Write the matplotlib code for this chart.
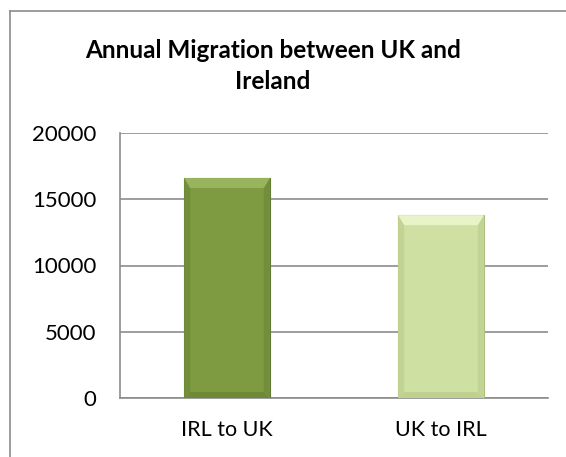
import matplotlib
matplotlib.use("Agg")
import matplotlib.pyplot as plt
from matplotlib.patches import Polygon
from matplotlib.lines import Line2D
import numpy as np

categories = ["IRL to UK", "UK to IRL"]
values = [16600, 13800]
yticks = [0, 5000, 10000, 15000, 20000]
title = "Annual Migration between UK and\nIreland"

W, H = 566, 457
plt.rcParams['font.family'] = ['Lato', 'DejaVu Sans']
fig = plt.figure(figsize=(W / 100, H / 100), dpi=100)

# outer chart frame (top and left visible)
fig.add_artist(Line2D([10 / W, 10 / W], [0, 1 - 11 / H], color="#8c8c8c", lw=1.2))
fig.add_artist(Line2D([10 / W, 1.0], [1 - 11 / H, 1 - 11 / H], color="#8c8c8c", lw=1.2))

ax = fig.add_axes([120 / W, 1 - 398 / H, (548 - 120) / W, (398 - 133) / H])
ax.set_xlim(-0.5, 1.5)
ax.set_ylim(0, 20000)
ax.set_yticks(yticks)
ax.set_yticklabels([str(t) for t in yticks], fontsize=16)
ax.set_xticks(range(len(categories)))
ax.set_xticklabels(categories, fontsize=15.5)
ax.tick_params(length=0)
ax.tick_params(axis="y", pad=17)
ax.tick_params(axis="x", pad=16)
for s in ["top", "right"]:
    ax.spines[s].set_visible(False)
for s in ["left", "bottom"]:
    ax.spines[s].set_color("#8c8c8c")
    ax.spines[s].set_linewidth(1.2)
ax.yaxis.grid(True, color="#8c8c8c", lw=1.2)
ax.set_axisbelow(True)

fig.text(273 / W, 1 - 66 / H, title, ha="center", va="center", multialignment="center",
         fontsize=17.5, fontweight="bold", linespacing=1.45)

main_colors = ["#7E9B41", "#CFE1A2"]
top_colors = ["#98B55E", "#E8F3C8"]
side_colors = ["#728E3A", "#C2D494"]
bot_colors = ["#6F8A37", "#BFD090"]
edge_colors = ["#627B32", "#AFBF82"]

bars = ax.bar(range(len(categories)), values, width=0.4, color=main_colors,
              edgecolor=edge_colors, linewidth=0.8, zorder=3)

fig.canvas.draw()
inv = ax.transData.inverted()
for i, b in enumerate(bars):
    x0, y0 = ax.transData.transform((b.get_x(), 0))
    x1, y1 = ax.transData.transform((b.get_x() + b.get_width(), b.get_height()))
    bt, bs = 10, 6  # bevel px
    def poly(pts, c):
        d = inv.transform(np.array(pts))
        ax.add_patch(Polygon(d, closed=True, facecolor=c, edgecolor="none", zorder=4))
    poly([(x0, y0), (x1, y0), (x1 - bs, y0 + bs), (x0 + bs, y0 + bs)], bot_colors[i])
    poly([(x1, y0), (x1, y1), (x1 - bs, y1 - bt), (x1 - bs, y0 + bs)], side_colors[i])
    poly([(x0, y0), (x0, y1), (x0 + bs, y1 - bt), (x0 + bs, y0 + bs)], side_colors[i])
    poly([(x0, y1), (x1, y1), (x1 - bs, y1 - bt), (x0 + bs, y1 - bt)], top_colors[i])

fig.savefig("out.png", dpi=100)
